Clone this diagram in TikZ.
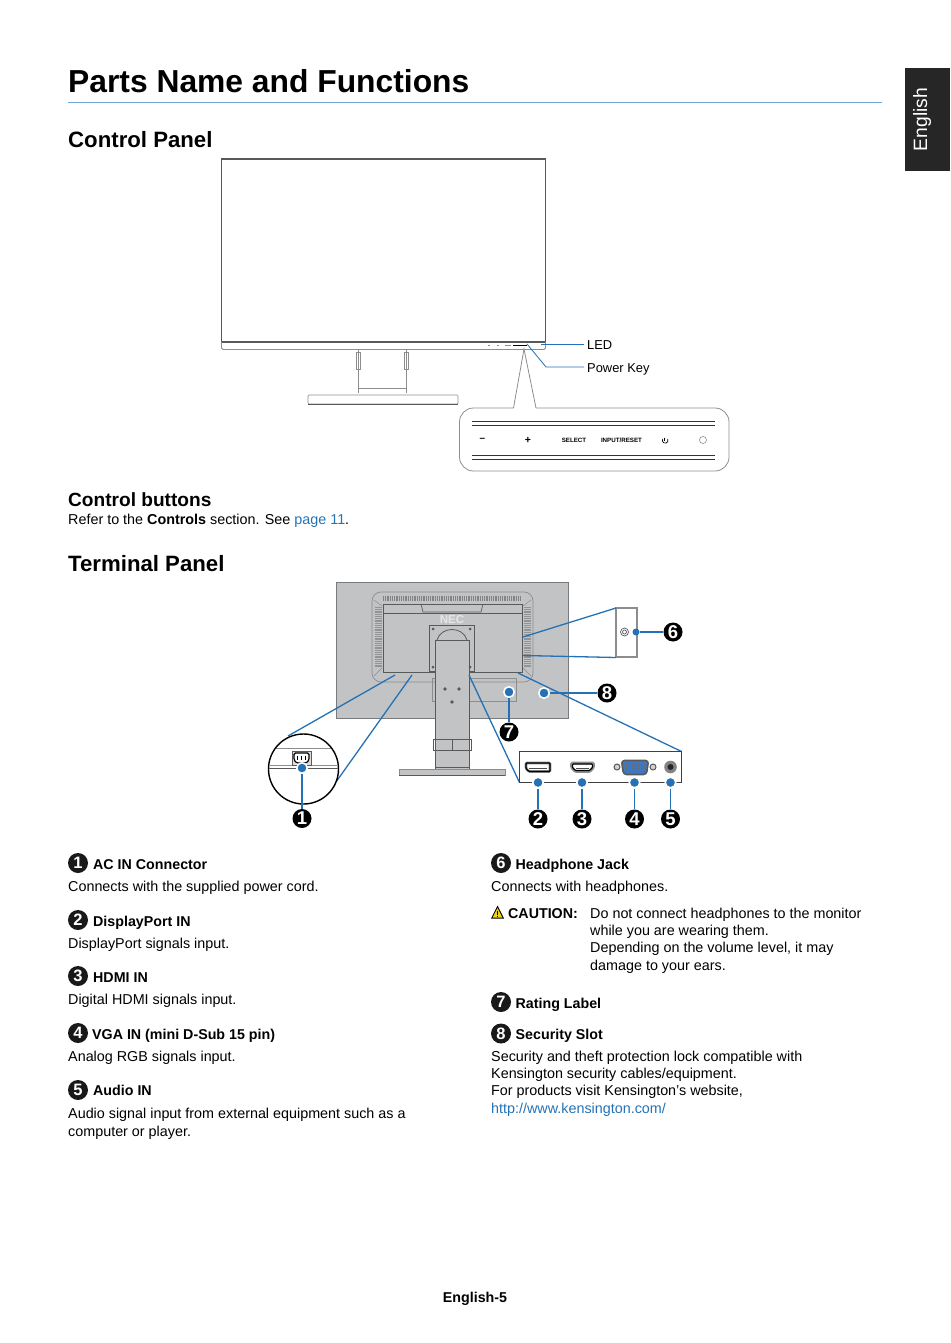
\documentclass[tikz,border=0pt]{standalone}
\usepackage{fontspec}
\setmainfont{Liberation Sans}
\definecolor{nblue}{HTML}{2472B5}
\definecolor{rule}{HTML}{6FA8D6}
\definecolor{mgray}{HTML}{C2C3C5}
\definecolor{dgray}{HTML}{58595B}
\definecolor{lgray}{HTML}{8C8D8F}
\definecolor{vga}{HTML}{3F78C0}
\definecolor{warn}{HTML}{F2D21B}
\tikzset{
 txt/.style={anchor=base west,inner sep=0,font=\fontsize{14.35}{17}\selectfont},
 btxt/.style={txt,font=\fontsize{14.25}{17}\selectfont\bfseries},
 lbl/.style={txt,font=\fontsize{12.9}{16}\selectfont},
 sec/.style={anchor=base west,inner sep=0,font=\fontsize{22.2}{26}\selectfont\bfseries},
 bul/.style={circle,fill=black!90,text=white,inner sep=0,minimum size=20pt,font=\fontsize{16.5}{17}\selectfont\bfseries},
 dbul/.style={circle,fill=black,text=white,inner sep=0,minimum size=19pt,font=\fontsize{18.5}{18}\selectfont\bfseries},
 ln/.style={draw=nblue,line width=1.3pt},
 dot/.style={circle,fill=nblue,inner sep=0,minimum size=7pt},
 wdot/.style={circle,fill=nblue,draw=white,line width=1.5pt,inner sep=0,minimum size=10.5pt},
 gl/.style={draw=lgray,line width=.7pt},
 dl/.style={draw=dgray,line width=1pt},
 btn/.style={inner sep=0,font=\fontsize{6.2}{8}\selectfont\bfseries},
}
\begin{document}
\begin{tikzpicture}[x=1pt,y=-1pt]
\useasboundingbox (0,0) rectangle (950,1343);
% header
\node[anchor=base west,inner sep=0,font=\fontsize{31.8}{36}\selectfont\bfseries] (title) at (68,93) {Parts Name and Functions};
\draw[rule,line width=.8pt] (68,102) -- (882,102);
\fill[black!85] (905,68) rectangle (950,171);
\node[rotate=90,text=white,inner sep=0,font=\fontsize{19.3}{22}\selectfont] (eng) at (922,119.5) {English};
\node[sec] (cp) at (68,148) {Control Panel};
% monitor front
\draw[dl,line width=1.1pt] (221.5,159) rectangle (545.5,342);
\draw[lgray,line width=.8pt,rounded corners=1.5pt] (221.5,342) -- (221.5,349.5) -- (545.5,349.5) -- (545.5,342);
\draw[lgray,line width=.7pt] (358,349.5) -- (358,393) (406.5,349.5) -- (406.5,393) (358,388) -- (406.5,388);
\draw[lgray,line width=.7pt] (356.5,352) rectangle (360,369);
\draw[lgray,line width=.7pt] (404.5,352) rectangle (408,369);
\draw[gl,rounded corners=1pt] (308,395) rectangle (458,404);
\draw[dl] (308,404) -- (458,404);
\draw[lgray,line width=.6pt] (488,345) -- (490,345) (497,345) -- (499,345) (505,345) -- (511,345);
\draw[black,line width=.9pt] (513,345) -- (527,345);
% callout
\draw[gl,line width=.8pt,rounded corners=14pt] (513.5,408) -- (459.5,408) -- (459.5,471) -- (729,471) -- (729,408) -- (536,408);
\draw[gl,line width=.8pt] (513.5,408) -- (524,349) -- (536,408);
\foreach \y in {421,425.5} \draw[black!80,line width=.9pt] (472,\y) -- (715,\y);
\foreach \y in {455,459} \draw[black!80,line width=.9pt] (472,\y) -- (715,\y);
\node[inner sep=0,font=\fontsize{10}{9}\selectfont\bfseries] (bm) at (482.5,440) {–};
\node[inner sep=0,font=\fontsize{10.5}{9}\selectfont\bfseries] (bp) at (528,440.5) {+};
\node[btn] (bs) at (574,440.5) {SELECT};
\node[btn] (bi) at (621.5,440.5) {INPUT/RESET};
\draw[black,line width=.7pt] (664.7,437.5) -- (664.7,441);
\draw[black,line width=.7pt] (662.7,438.8) arc[start angle=210,delta angle=-240,radius=2.9];
\node[circle,draw=lgray,line width=.6pt,inner sep=0,minimum size=7pt] (bl) at (703,440) {};
% LED labels
\coordinate (ledp) at (541,344.5);
\coordinate (pwp) at (527,344);
\coordinate (pwk) at (546,367);
\coordinate (lede) at (584,344.5);
\coordinate (pwe) at (584,367);
\node[lbl] (led) at (587,349) {LED};
\node[lbl] (pwr) at (587,372) {Power Key};
\draw[draw=nblue,line width=.8pt] (ledp) -- (lede);
\draw[draw=nblue,line width=.8pt] (pwp) -- (pwk) -- (pwe);
% control buttons
\node[anchor=base west,inner sep=0,font=\fontsize{19.1}{22}\selectfont\bfseries] (cb) at (68,506) {Control buttons};
\node[txt] (cbt) at (68,524.5) {Refer to the \textbf{Controls} section. See \textcolor{nblue}{page 11}.};
\node[sec] (tp) at (68,571) {Terminal Panel};
% monitor back
\fill[mgray] (336,582) rectangle (568,718);
\draw[dgray!80!white,line width=1pt] (336,582) rectangle (568,718);
\draw[lgray,line width=.7pt,rounded corners=9pt] (372,592) rectangle (533,682);
\draw[lgray,line width=.5pt] (374,600) -- (382,606) (531,600) -- (523,606) (374,676) -- (382,668) (531,676) -- (523,668);
\draw[dgray!75,line width=5pt,dash pattern=on .8pt off 1pt] (383,598) -- (521,598);
\draw[dgray!65,line width=7pt,dash pattern=on .8pt off 1pt] (378,607) -- (378,668);
\draw[dgray!65,line width=7pt,dash pattern=on .8pt off 1pt] (527,607) -- (527,668);
\draw[dgray,line width=.8pt] (383,604) rectangle (522,672);
\draw[dgray,line width=.8pt] (383,613) -- (522,613);
\draw[dgray,line width=.7pt] (421,604) -- (423,612) -- (481,612) -- (483,604);
\draw[dgray,line width=1.2pt] (384,672.5) -- (434,672.5) (470,672.5) -- (522,672.5);
\node[inner sep=0,text=mgray!40,font=\fontsize{11.5}{12}\selectfont\bfseries] (nec) at (452,620) {NEC};
\draw[dgray,line width=.7pt] (429,625) rectangle (474,671);
\draw[dgray,line width=.8pt] (437,640) .. controls (441,626) and (463,626) .. (467,640);
% rating label
\draw[lgray,line width=.5pt] (432,678) rectangle (516,701);
% stand
\fill[mgray] (435,640) rectangle (469,769);
\draw[dgray,line width=.8pt] (435,640) -- (435,769) (469,640) -- (469,769) (435,640) -- (469,640);
\draw[dgray,line width=.7pt] (433,739) rectangle (471,750);
\draw[dgray,line width=.5pt] (452,739) -- (452,750);
\draw[dgray,line width=.5pt] (435,767) -- (469,767);
\fill[dgray] (445,689) circle (1.8) (459,689) circle (1.8) (452,702) circle (1.8) (433,629) circle (1.5) (470,629) circle (1.5) (433,667) circle (1.5) (470,667) circle (1.5);
\fill[mgray] (399,769) rectangle (505,775);
\draw[lgray,line width=.5pt] (399,769) rectangle (505,775);
\draw[dgray,line width=.9pt] (399,775.5) -- (505,775.5);
% detail 6
\fill[white] (616,608) rectangle (637,657);
\draw[lgray,line width=1.1pt] (616,608) -- (637,608) -- (637,657) -- (616,657) -- cycle;
\draw[dgray,line width=.7pt] (624.5,632) circle (4);
\draw[dgray,line width=.7pt] (624.5,632) circle (2);
\coordinate (s6a) at (523,637);
\coordinate (s6b) at (523,655.5);
\coordinate (e6a) at (616,608);
\coordinate (e6b) at (616,657.5);
\draw[ln] (s6a) -- (e6a);
\draw[ln] (s6b) -- (e6b);
\node[dot] (d6) at (636,632) {};
\node[dbul] (n6) at (673,632) {6};
\draw[ln] (d6) -- (n6);
% detail terminals
\coordinate (tl) at (519.5,782.5);
\coordinate (tr) at (681.5,751.5);
\coordinate (s3) at (469,675);
\coordinate (s4) at (518,673);
\draw[ln] (s3) -- (tl);
\draw[ln] (s4) -- (tr);
% 7 8
\node[wdot] (d7) at (509,692) {};
\node[dbul] (n7) at (509,732) {7};
\draw[ln] (d7) -- (n7);
\node[wdot] (d8) at (544,693) {};
\node[dbul] (n8) at (607,693) {8};
\draw[ln] (d8) -- (n8);
\draw[black!75,line width=1.3pt] (519.5,782.5) -- (519.5,751.5) -- (681.5,751.5) -- (681.5,782.5) -- (519.5,782.5);
% DP
\draw[lgray,line width=2.6pt,fill=white,rounded corners=1pt] (526,763) -- (550,763) -- (550,771.5) -- (529,771.5) -- (526,768.5) -- cycle;
\draw[black,line width=1.4pt,rounded corners=.8pt] (526,763) -- (550,763) -- (550,771.5) -- (529,771.5) -- (526,768.5) -- cycle;
\draw[black!70,line width=.7pt] (529,768.5) -- (547,768.5);
% HDMI
\draw[lgray,line width=2.6pt,fill=white,rounded corners=1pt] (571.5,763) -- (593.5,763) -- (593.5,767.5) -- (590,771.5) -- (575,771.5) -- (571.5,767.5) -- cycle;
\draw[black,line width=1.1pt,rounded corners=.8pt] (572.5,764) -- (592.5,764) -- (592.5,767.5) -- (589.5,770.5) -- (575.5,770.5) -- (572.5,767.5) -- cycle;
\draw[black!70,line width=.7pt] (576,768) -- (589,768);
% VGA
\draw[dgray,line width=1pt,fill=lgray!40] (617,767) circle (3);
\draw[dgray,line width=1pt,fill=lgray!40] (653,767) circle (3);
\draw[dgray,line width=1.6pt,fill=vga,rounded corners=3pt] (621.5,760.5) -- (648.5,760.5) -- (646.5,774.5) -- (623.5,774.5) -- cycle;
\foreach \x in {626,629,632,635,638,641,644} \draw[black!60,line width=.5pt,dash pattern=on .8pt off 1.6pt] (\x,763.5) -- (\x,772);
% audio
\fill[dgray!75] (670.5,767) circle (6.3);
\fill[black!85] (670.5,767) circle (3);
% terminal dots
\node[wdot] (d2) at (538,782.5) {};
\node[wdot] (d3) at (582,782.5) {};
\node[wdot] (d4) at (634.5,782.5) {};
\node[wdot] (d5) at (670.5,782.5) {};
\node[dbul] (n2) at (538,819) {2};
\node[dbul] (n3) at (582,819) {3};
\node[dbul] (n4) at (634.5,819) {4};
\node[dbul] (n5) at (670.5,819) {5};
\draw[ln] (d2) -- (n2);
\draw[ln] (d3) -- (n3);
\draw[ln] (d4) -- (n4);
\draw[ln] (d5) -- (n5);
% detail 1
\coordinate (s1a) at (395,675);
\coordinate (s1b) at (412,675);
\coordinate (e1a) at (288,736);
\coordinate (e1b) at (336,782);
\draw[ln] (s1a) -- (e1a);
\draw[ln] (s1b) -- (e1b);
\draw[black,line width=1.4pt,fill=white] (303.5,769) circle (35);
\begin{scope}
\clip (303.5,769) circle (34.3);
\draw[lgray,line width=1pt] (260,748.5) -- (350,748.5);
\draw[lgray,line width=1pt] (260,765.5) -- (350,765.5);
\draw[dgray,line width=1pt] (260,768.5) -- (350,768.5);
\end{scope}
\draw[dgray,line width=1pt,fill=lgray!30] (292,751) rectangle (311,765);
\draw[black,line width=1.2pt,fill=white,rounded corners=1.5pt] (294,753) -- (309,753) -- (309,760) -- (306.5,763) -- (296.5,763) -- (294,760) -- cycle;
\draw[black,line width=1pt] (297.5,755.5) -- (297.5,760) (301.5,755.5) -- (301.5,760) (305.5,755.5) -- (305.5,760);
\node[wdot] (d1) at (302,768) {};
\node[dbul] (n1) at (302,818.5) {1};
\draw[ln] (d1) -- (n1);
% left list
\node[bul] (l1) at (78,863) {1};
\node[btxt] (t1) at (93,869) {AC IN Connector};
\node[txt] (x1) at (68,891) {Connects with the supplied power cord.};
\node[bul] (l2) at (78,920) {2};
\node[btxt] (t2) at (93,926) {DisplayPort IN};
\node[txt] (x2) at (68,948) {DisplayPort signals input.};
\node[bul] (l3) at (78,976) {3};
\node[btxt] (t3) at (93,982) {HDMI IN};
\node[txt] (x3) at (68,1004) {Digital HDMI signals input.};
\node[bul] (l4) at (78,1033) {4};
\node[btxt] (t4) at (92,1039) {VGA IN (mini D-Sub 15 pin)};
\node[txt] (x4) at (68,1061) {Analog RGB signals input.};
\node[bul] (l5) at (78,1090) {5};
\node[btxt] (t5) at (93,1095.5) {Audio IN};
\node[txt] (x5) at (68,1118) {Audio signal input from external equipment such as a};
\node[txt] (x5b) at (68,1136) {computer or player.};
% right list
\node[bul] (l6) at (501,863) {6};
\node[btxt] (t6) at (515.5,869) {Headphone Jack};
\node[txt] (x6) at (491,891) {Connects with headphones.};
\fill[black] (497.5,905.5) -- (504,918.5) -- (491,918.5) -- cycle;
\fill[warn] (497.5,908) -- (502.3,917.5) -- (492.7,917.5) -- cycle;
\draw[black,line width=1pt] (497.5,910.5) -- (497.5,914.5) (497.5,915.5) -- (497.5,916.8);
\node[btxt] (ca) at (508,918) {CAUTION:};
\node[txt] (ca1) at (590,918) {Do not connect headphones to the monitor};
\node[txt] (ca2) at (590,935) {while you are wearing them.};
\node[txt] (ca3) at (590,952.5) {Depending on the volume level, it may};
\node[txt] (ca4) at (590,970) {damage to your ears.};
\node[bul] (l7) at (501,1002) {7};
\node[btxt] (t7) at (515.5,1008) {Rating Label};
\node[bul] (l8) at (501,1033.5) {8};
\node[btxt] (t8) at (515.5,1039) {Security Slot};
\node[txt] (x8a) at (491,1061) {Security and theft protection lock compatible with};
\node[txt] (x8b) at (491,1078) {Kensington security cables/equipment.};
\node[txt] (x8c) at (491,1095.5) {For products visit Kensington’s website,};
\node[txt,text=nblue] (x8d) at (491,1113) {http://www.kensington.com/};
% footer
\node[anchor=base,inner sep=0,font=\fontsize{14.25}{17}\selectfont\bfseries] (ft) at (475,1302) {English-5};
\end{tikzpicture}
\end{document}
